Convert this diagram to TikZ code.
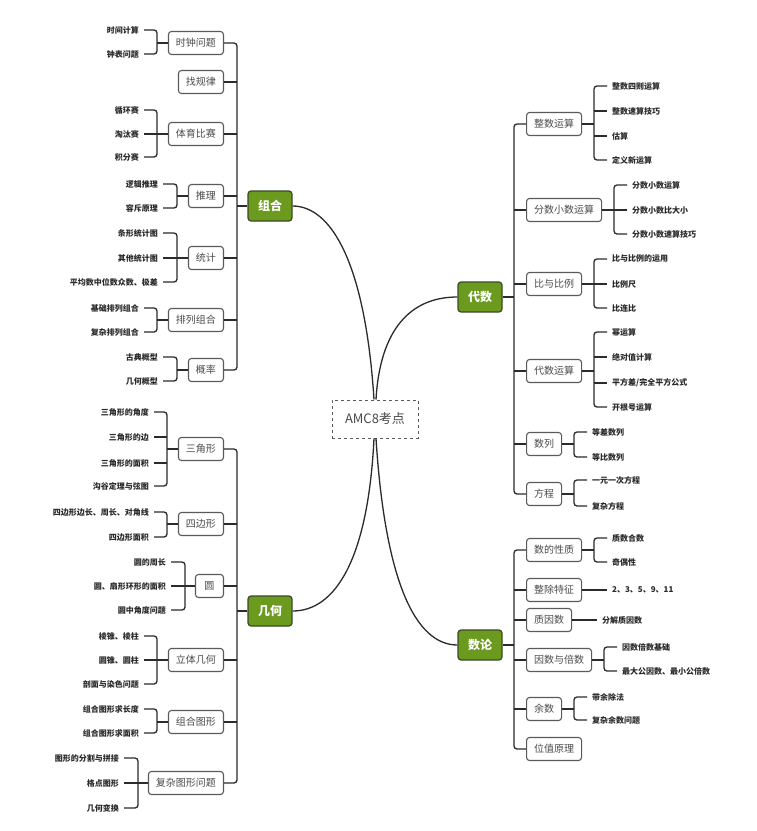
\documentclass[tikz,border=0pt]{standalone}
\usepackage{fontspec}
\setmainfont{Noto Sans CJK SC}
\definecolor{mmgreen}{HTML}{6B9A1F}
\definecolor{mmgreenb}{HTML}{3A4A26}
\definecolor{mmbox}{HTML}{5A5A5A}
\definecolor{mmboxtxt}{HTML}{4A4A4A}
\definecolor{mmline}{HTML}{2B2B2B}
\definecolor{mmleaf}{HTML}{2A2A2A}
\tikzset{
  topic/.style={draw=mmbox, line width=1.1pt, rounded corners=3pt, fill=white, text=mmboxtxt,
    font=\fontsize{10}{10}\selectfont, minimum height=23pt, inner xsep=7.5pt, inner ysep=0pt},
  topicL/.style={topic, anchor=east},
  topicR/.style={topic, anchor=west},
  mainbox/.style={draw=mmgreenb, fill=mmgreen, line width=1.2pt, rounded corners=3pt, text=white,
    font=\fontsize{12}{12}\selectfont\bfseries, minimum height=30pt, minimum width=44pt, inner sep=0pt},
  rootbox/.style={draw=mmbox, dashed, line width=1pt, text=mmboxtxt, font=\fontsize{13}{13}\selectfont,
    minimum width=86pt, minimum height=38pt, inner sep=0pt},
  leaf/.style={inner sep=0pt, text=mmleaf, font=\fontsize{8}{8}\selectfont\bfseries},
  leafL/.style={leaf, anchor=east},
  leafR/.style={leaf, anchor=west},
  conn/.style={draw=mmline, line width=1.3pt},
  brk/.style={conn, rounded corners=3pt},
}
% left bracket: first leaf, last leaf, topic node (bracket coordinate named <topic>B)
\newcommand\mmBrL[3]{%
  \draw[brk] ([xshift=5pt]#1.east) -- (#1.east -| #3B) -- (#2.east -| #3B) -- ([xshift=5pt]#2.east);
  \draw[conn] (#3.west) -- (#3.west -| #3B);}
\newcommand\mmMidL[2]{\draw[conn] ([xshift=5pt]#1.east) -- (#1.east -| #2B);}
\newcommand\mmBrR[3]{%
  \draw[brk] ([xshift=-5pt]#1.west) -- (#1.west -| #3B) -- (#2.west -| #3B) -- ([xshift=-5pt]#2.west);
  \draw[conn] (#3.east) -- (#3.east -| #3B);}
\newcommand\mmMidR[2]{\draw[conn] ([xshift=-5pt]#1.west) -- (#1.west -| #2B);}
\begin{document}
\begin{tikzpicture}[x=1pt,y=-1pt]
\useasboundingbox[fill=white] (0,0) rectangle (756,831);

% root and main topics
\node[rootbox] (root) at (375,419) {AMC8考点};
\node[mainbox] (zh) at (270,206) {组合};
\node[mainbox] (ds) at (480,297) {代数};
\node[mainbox] (jh) at (270,611) {几何};
\node[mainbox] (sl) at (480,645) {数论};

\coordinate (rtA) at ([xshift=-1pt]root.north);
\coordinate (rtB) at ([xshift=1pt]root.north);
\coordinate (rbA) at ([xshift=-1pt]root.south);
\coordinate (rbB) at ([xshift=1pt]root.south);
\draw[conn] (rtA) .. controls (365,260) and (330,206) .. (zh.east);
\draw[conn] (rtB) .. controls (380,330) and (410,297) .. (ds.west);
\draw[conn] (rbA) .. controls (368,560) and (335,611) .. (jh.east);
\draw[conn] (rbB) .. controls (385,580) and (415,645) .. (sl.west);

% ===== 组合 =====
\coordinate (zhT) at (237,0);
\node[topicL] (zh1) at (224,43) {时钟问题};
\node[topicL] (zh2) at (224,82) {找规律};
\node[topicL] (zh3) at (224,134) {体育比赛};
\node[topicL] (zh4) at (224,196) {推理};
\node[topicL] (zh5) at (224,258) {统计};
\node[topicL] (zh6) at (224,320) {排列组合};
\node[topicL] (zh7) at (224,370) {概率};
\draw[conn] (zh.west) -- (zh.west -| zhT);
\draw[brk] (zh1.east) -- (zh1.east -| zhT) -- (zh7.east -| zhT) -- (zh7.east);
\foreach \i in {2,...,6} \draw[conn] (zh\i.east) -- (zh\i.east -| zhT);

\coordinate (zh1B) at (157,0);
\node[leafL] (zh1a) at (139,30) {时间计算};
\node[leafL] (zh1b) at (139,54) {钟表问题};
\mmBrL{zh1a}{zh1b}{zh1}

\coordinate (zh3B) at (157,0);
\node[leafL] (zh3a) at (139,110) {循环赛};
\node[leafL] (zh3b) at (139,134) {淘汰赛};
\node[leafL] (zh3c) at (139,157) {积分赛};
\mmBrL{zh3a}{zh3c}{zh3}
\mmMidL{zh3b}{zh3}

\coordinate (zh4B) at (177,0);
\node[leafL] (zh4a) at (158,184) {逻辑推理};
\node[leafL] (zh4b) at (158,208) {容斥原理};
\mmBrL{zh4a}{zh4b}{zh4}

\coordinate (zh5B) at (177,0);
\node[leafL] (zh5a) at (158,233) {条形统计图};
\node[leafL] (zh5b) at (158,258) {其他统计图};
\node[leafL] (zh5c) at (158,282) {平均数中位数众数、极差};
\mmBrL{zh5a}{zh5c}{zh5}
\mmMidL{zh5b}{zh5}

\coordinate (zh6B) at (157,0);
\node[leafL] (zh6a) at (139,308) {基础排列组合};
\node[leafL] (zh6b) at (139,332) {复杂排列组合};
\mmBrL{zh6a}{zh6b}{zh6}

\coordinate (zh7B) at (177,0);
\node[leafL] (zh7a) at (158,357) {古典概型};
\node[leafL] (zh7b) at (158,381) {几何概型};
\mmBrL{zh7a}{zh7b}{zh7}

% ===== 几何 =====
\coordinate (jhT) at (237,0);
\node[topicL] (jh1) at (224,449) {三角形};
\node[topicL] (jh2) at (224,524) {四边形};
\node[topicL, minimum width=28pt] (jh3) at (224,586) {圆};
\node[topicL] (jh4) at (224,660) {立体几何};
\node[topicL] (jh5) at (224,722) {组合图形};
\node[topicL] (jh6) at (224,783) {复杂图形问题};
\draw[conn] (jh.west) -- (jh.west -| jhT);
\draw[brk] (jh1.east) -- (jh1.east -| jhT) -- (jh6.east -| jhT) -- (jh6.east);
\foreach \i in {2,...,5} \draw[conn] (jh\i.east) -- (jh\i.east -| jhT);

\coordinate (jh1B) at (167,0);
\node[leafL] (jh1a) at (149,412) {三角形的角度};
\node[leafL] (jh1b) at (149,437) {三角形的边};
\node[leafL] (jh1c) at (149,463) {三角形的面积};
\node[leafL] (jh1d) at (149,486) {沟谷定理与弦图};
\mmBrL{jh1a}{jh1d}{jh1}
\mmMidL{jh1b}{jh1}
\mmMidL{jh1c}{jh1}

\coordinate (jh2B) at (167,0);
\node[leafL] (jh2a) at (149,512) {四边形边长、周长、对角线};
\node[leafL] (jh2b) at (149,537) {四边形面积};
\mmBrL{jh2a}{jh2b}{jh2}

\coordinate (jh3B) at (185,0);
\node[leafL] (jh3a) at (166,562) {圆的周长};
\node[leafL] (jh3b) at (166,586) {圆、扇形环形的面积};
\node[leafL] (jh3c) at (166,610) {圆中角度问题};
\mmBrL{jh3a}{jh3c}{jh3}
\mmMidL{jh3b}{jh3}

\coordinate (jh4B) at (157,0);
\node[leafL] (jh4a) at (139,636) {棱锥、棱柱};
\node[leafL] (jh4b) at (139,660) {圆锥、圆柱};
\node[leafL] (jh4c) at (139,684) {剖面与染色问题};
\mmBrL{jh4a}{jh4c}{jh4}
\mmMidL{jh4b}{jh4}

\coordinate (jh5B) at (157,0);
\node[leafL] (jh5a) at (139,709) {组合图形求长度};
\node[leafL] (jh5b) at (139,733) {组合图形求面积};
\mmBrL{jh5a}{jh5b}{jh5}

\coordinate (jh6B) at (138,0);
\node[leafL] (jh6a) at (119,758) {图形的分割与拼接};
\node[leafL] (jh6b) at (119,783) {格点图形};
\node[leafL] (jh6c) at (119,808) {几何变换};
\mmBrL{jh6a}{jh6c}{jh6}
\mmMidL{jh6b}{jh6}

% ===== 代数 =====
\coordinate (dsT) at (514,0);
\node[topicR] (ds1) at (526,124) {整数运算};
\node[topicR] (ds2) at (526,210) {分数小数运算};
\node[topicR] (ds3) at (526,284) {比与比例};
\node[topicR] (ds4) at (526,371) {代数运算};
\node[topicR] (ds5) at (526,444) {数列};
\node[topicR] (ds6) at (526,494) {方程};
\draw[conn] (ds.east) -- (ds.east -| dsT);
\draw[brk] (ds1.west) -- (ds1.west -| dsT) -- (ds6.west -| dsT) -- (ds6.west);
\foreach \i in {2,...,5} \draw[conn] (ds\i.west) -- (ds\i.west -| dsT);

\coordinate (ds1B) at (594,0);
\node[leafR] (ds1a) at (612,86) {整数四则运算};
\node[leafR] (ds1b) at (612,111) {整数速算技巧};
\node[leafR] (ds1c) at (612,136) {估算};
\node[leafR] (ds1d) at (612,160) {定义新运算};
\mmBrR{ds1a}{ds1d}{ds1}
\mmMidR{ds1b}{ds1}
\mmMidR{ds1c}{ds1}

\coordinate (ds2B) at (614,0);
\node[leafR] (ds2a) at (632,185) {分数小数运算};
\node[leafR] (ds2b) at (632,210) {分数小数比大小};
\node[leafR] (ds2c) at (632,234) {分数小数速算技巧};
\mmBrR{ds2a}{ds2c}{ds2}
\mmMidR{ds2b}{ds2}

\coordinate (ds3B) at (594,0);
\node[leafR] (ds3a) at (612,259) {比与比例的运用};
\node[leafR] (ds3b) at (612,284) {比例尺};
\node[leafR] (ds3c) at (612,308) {比连比};
\mmBrR{ds3a}{ds3c}{ds3}
\mmMidR{ds3b}{ds3}

\coordinate (ds4B) at (594,0);
\node[leafR] (ds4a) at (612,332) {幂运算};
\node[leafR] (ds4b) at (612,357) {绝对值计算};
\node[leafR] (ds4c) at (612,383) {平方差/完全平方公式};
\node[leafR] (ds4d) at (612,407) {开根号运算};
\mmBrR{ds4a}{ds4d}{ds4}
\mmMidR{ds4b}{ds4}
\mmMidR{ds4c}{ds4}

\coordinate (ds5B) at (574,0);
\node[leafR] (ds5a) at (592,432) {等差数列};
\node[leafR] (ds5b) at (592,457) {等比数列};
\mmBrR{ds5a}{ds5b}{ds5}

\coordinate (ds6B) at (574,0);
\node[leafR] (ds6a) at (592,480) {一元一次方程};
\node[leafR] (ds6b) at (592,506) {复杂方程};
\mmBrR{ds6a}{ds6b}{ds6}

% ===== 数论 =====
\coordinate (slT) at (514,0);
\node[topicR] (sl1) at (526,550) {数的性质};
\node[topicR] (sl2) at (526,590) {整除特征};
\node[topicR] (sl3) at (526,620) {质因数};
\node[topicR] (sl4) at (526,660) {因数与倍数};
\node[topicR] (sl5) at (526,709) {余数};
\node[topicR] (sl6) at (526,749) {位值原理};
\draw[conn] (sl.east) -- (sl.east -| slT);
\draw[brk] (sl1.west) -- (sl1.west -| slT) -- (sl6.west -| slT) -- (sl6.west);
\foreach \i in {2,...,5} \draw[conn] (sl\i.west) -- (sl\i.west -| slT);

\coordinate (sl1B) at (594,0);
\node[leafR] (sl1a) at (612,538) {质数合数};
\node[leafR] (sl1b) at (612,562) {奇偶性};
\mmBrR{sl1a}{sl1b}{sl1}

\node[leafR] (sl2a) at (612,590) {2、3、5、9、11};
\draw[conn] (sl2.east) -- ([xshift=-5pt]sl2a.west);

\node[leafR] (sl3a) at (602,620) {分解质因数};
\draw[conn] (sl3.east) -- ([xshift=-5pt]sl3a.west);

\coordinate (sl4B) at (604,0);
\node[leafR] (sl4a) at (622,647) {因数倍数基础};
\node[leafR] (sl4b) at (622,671) {最大公因数、最小公倍数};
\mmBrR{sl4a}{sl4b}{sl4}

\coordinate (sl5B) at (574,0);
\node[leafR] (sl5a) at (592,697) {带余除法};
\node[leafR] (sl5b) at (592,720) {复杂余数问题};
\mmBrR{sl5a}{sl5b}{sl5}
\end{tikzpicture}
\end{document}
